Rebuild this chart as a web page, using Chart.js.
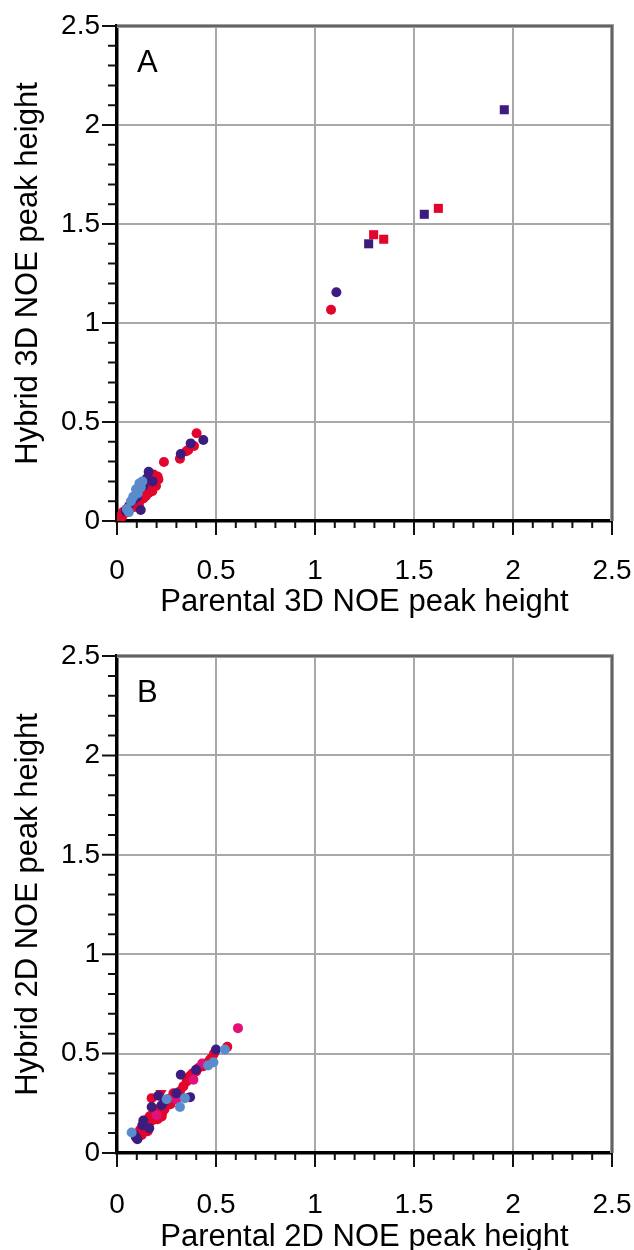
<!DOCTYPE html>
<html>
<head>
<meta charset="utf-8">
<script src="https://cdn.jsdelivr.net/npm/chart.js@4.4.0/dist/chart.umd.min.js"></script>
<style>
  html, body { margin: 0; padding: 0; background: #fff; }
  canvas { display: block; }
</style>
</head>
<body>
<canvas id="chartA" width="634" height="625"></canvas>
<canvas id="chartB" width="634" height="625"></canvas>
<script>
/* ── Data: panel A (3D NOE) ───────────────────────────────────────── */
const axisTicks = [0, 0.5, 1, 1.5, 2, 2.5];

const aBlueX   = [0.113, 0.096, 0.082, 0.070, 0.120, 0.050, 0.105, 0.128, 0.060];
const aBlueY   = [0.190, 0.160, 0.123, 0.100, 0.170, 0.060, 0.140, 0.200, 0.045];
const aPurpleX = [0.436, 0.372, 0.322, 0.160, 0.133, 0.120, 0.082, 0.045, 0.100, 0.180, 0.150, 1.108];
const aPurpleY = [0.409, 0.392, 0.338, 0.249, 0.177, 0.056, 0.106, 0.050, 0.120, 0.200, 0.215, 1.155];
const aPurpleTriX = [0.066];
const aPurpleTriY = [0.076];
const aRedX = [0.402, 0.389, 0.360, 0.350, 0.318, 0.237, 0.175, 0.209, 0.197, 0.167, 0.158,
               0.133, 0.113, 0.091, 0.066, 0.040, 0.015, 0.007, 0.190, 0.150, 0.100, 0.055,
               0.025, 0.080, 0.125, 0.170, 0.185, 0.160, 0.140, 0.118, 0.095, 0.072, 0.048,
               0.030, 0.205, 0.178, 0.145, 0.110, 0.085, 0.105, 0.075, 0.130, 0.175, 0.062,
               1.081];
const aRedY = [0.443, 0.379, 0.359, 0.352, 0.315, 0.298, 0.221, 0.210, 0.177, 0.165, 0.140,
               0.114, 0.098, 0.072, 0.064, 0.039, 0.022, 0.013, 0.205, 0.150, 0.100, 0.050,
               0.020, 0.070, 0.118, 0.195, 0.235, 0.225, 0.180, 0.130, 0.115, 0.085, 0.060,
               0.045, 0.225, 0.150, 0.125, 0.080, 0.110, 0.135, 0.090, 0.160, 0.215, 0.075,
               1.067];
const aPurpleSqX = [1.271, 1.552, 1.956];
const aPurpleSqY = [1.400, 1.549, 2.077];
const aRedSqX    = [1.296, 1.347, 1.623];
const aRedSqY    = [1.446, 1.423, 1.579];

/* ── Data: panel B (2D NOE) ───────────────────────────────────────── */
const bBlueX = [0.545, 0.487, 0.343, 0.318, 0.251, 0.074, 0.460];
const bBlueY = [0.520, 0.456, 0.276, 0.231, 0.271, 0.103, 0.440];
const bPurpleX = [0.500, 0.399, 0.322, 0.369, 0.209, 0.175, 0.133, 0.163, 0.103, 0.095, 0.240,
                  0.300, 0.128, 0.225];
const bPurpleY = [0.520, 0.419, 0.394, 0.281, 0.288, 0.231, 0.163, 0.125, 0.069, 0.080, 0.260,
                  0.300, 0.140, 0.240];
const bPurpleTriX = [0.082];
const bPurpleTriY = [0.095];
const bMagentaX = [0.611, 0.386, 0.300, 0.200, 0.430];
const bMagentaY = [0.628, 0.369, 0.270, 0.190, 0.450];
const bRedX = [0.557, 0.478, 0.461, 0.436, 0.411, 0.352, 0.335, 0.318, 0.293, 0.276, 0.251,
               0.175, 0.217, 0.226, 0.200, 0.184, 0.158, 0.133, 0.116, 0.108, 0.125, 0.240,
               0.210, 0.190, 0.150, 0.140, 0.170, 0.260, 0.300, 0.380, 0.450, 0.490, 0.120,
               0.165, 0.145, 0.195, 0.230, 0.270, 0.285, 0.365, 0.400, 0.470, 0.130, 0.155,
               0.205, 0.180];
const bRedY = [0.534, 0.478, 0.456, 0.436, 0.428, 0.360, 0.335, 0.310, 0.293, 0.276, 0.251,
               0.276, 0.226, 0.184, 0.200, 0.167, 0.150, 0.133, 0.116, 0.082, 0.091, 0.220,
               0.190, 0.180, 0.120, 0.140, 0.160, 0.270, 0.280, 0.400, 0.450, 0.500, 0.100,
               0.185, 0.165, 0.215, 0.205, 0.245, 0.300, 0.385, 0.410, 0.470, 0.115, 0.110,
               0.170, 0.195];
const bRedTriX = [0.222];
const bRedTriY = [0.301];

/* ── Colours ──────────────────────────────────────────────────────── */
const cPurple  = '#3d1c80';
const cRed     = '#e2062c';
const cBlue    = '#5a8bcb';
const cMagenta = '#e0127a';

function pts(xs, ys) {
  return xs.map(function(x, i) { return { x: x, y: ys[i] }; });
}

function ds(xs, ys, color, style, r, rot) {
  return {
    data: pts(xs, ys),
    backgroundColor: color,
    borderColor: color,
    borderWidth: 0,
    pointStyle: style,
    pointRadius: r,
    pointRotation: rot || 0
  };
}

// ── Frame + minor ticks + panel letter ──────────────────────────────
const framePlugin = {
  id: 'frame',
  afterDraw: function(chart) {
    const ctx = chart.ctx, a = chart.chartArea;
    const xs = chart.scales.x, ys = chart.scales.y;
    ctx.save();
    // top + right grey double border
    ctx.lineCap = 'butt';
    ctx.strokeStyle = '#a0a0a0';
    ctx.lineWidth = 4;
    ctx.beginPath();
    ctx.moveTo(a.left, a.top); ctx.lineTo(a.right, a.top); ctx.lineTo(a.right, a.bottom);
    ctx.stroke();
    ctx.strokeStyle = '#505050';
    ctx.lineWidth = 1.5;
    ctx.stroke();

    // tick marks
    ctx.strokeStyle = '#111';
    ctx.lineWidth = 2;
    for (let i = 0; i <= 25; i++) {
      const v = i / 10;
      const major = i % 5 === 0;
      const px = xs.getPixelForValue(v);
      const py = ys.getPixelForValue(v);
      ctx.beginPath();
      ctx.moveTo(px, a.bottom);
      ctx.lineTo(px, a.bottom + (major ? 14 : 7));
      ctx.moveTo(a.left, py);
      ctx.lineTo(a.left - (major ? 15 : 9), py);
      ctx.stroke();
    }

    // panel letter
    ctx.fillStyle = '#000';
    ctx.font = '31px "Liberation Sans", Arial, sans-serif';
    ctx.textBaseline = 'middle';
    ctx.textAlign = 'left';
    ctx.fillText(chart.options.plugins.frame.letter, a.left + 20, a.top + 37);
    ctx.restore();
  }
};

function makeChart(id, datasets, opt) {
  const font = '"Liberation Sans", Arial, sans-serif';
  return new Chart(document.getElementById(id), {
    type: 'scatter',
    data: { datasets: datasets },
    plugins: [framePlugin],
    options: {
      responsive: false,
      animation: false,
      devicePixelRatio: 1,
      layout: { padding: { top: opt.padTop, right: 22, bottom: 0, left: 0 } },
      plugins: {
        legend: { display: false },
        tooltip: { enabled: false },
        frame: { letter: opt.letter }
      },
      scales: {
        x: {
          type: 'linear', min: 0, max: 2.5,
          afterBuildTicks: function(s) { s.ticks = axisTicks.map(function(v) { return { value: v }; }); },
          afterFit: function(s) {
            s.height = 625 - opt.plotBottom;
            s.paddingLeft = 0; s.paddingRight = 0;
          },
          ticks: {
            color: '#000', padding: opt.xTickPad, maxRotation: 0,
            font: { family: font, size: 28 },
            callback: function(v) { return String(v); }
          },
          grid: { color: '#a8a8a8', lineWidth: 2, drawTicks: false },
          border: { color: '#000', width: 3.5 },
          title: {
            display: true, text: opt.xTitle, color: '#000',
            font: { family: font, size: 31, lineHeight: 1 },
            padding: { top: 0, bottom: opt.xTitlePad }
          }
        },
        y: {
          type: 'linear', min: 0, max: 2.5,
          afterBuildTicks: function(s) { s.ticks = axisTicks.map(function(v) { return { value: v }; }); },
          afterFit: function(s) {
            s.width = 117;
            s.paddingTop = 0; s.paddingBottom = 0;
          },
          ticks: {
            color: '#000', padding: 17,
            font: { family: font, size: 28 },
            callback: function(v) { return String(v); }
          },
          grid: { color: '#a8a8a8', lineWidth: 2, drawTicks: false },
          border: { color: '#000', width: 3.5 },
          title: {
            display: true, text: opt.yTitle, color: '#000',
            font: { family: font, size: 31, lineHeight: 1 },
            padding: { top: 12.5, bottom: 0 }
          }
        }
      }
    }
  });
}

makeChart('chartA', [
  ds(aBlueX, aBlueY, cBlue, 'circle', 5),
  ds(aPurpleX, aPurpleY, cPurple, 'circle', 5),
  ds(aPurpleTriX, aPurpleTriY, cPurple, 'triangle', 6.5, 180),
  ds(aRedX, aRedY, cRed, 'circle', 5),
  ds(aPurpleSqX, aPurpleSqY, cPurple, 'rect', 6.4),
  ds(aRedSqX, aRedSqY, cRed, 'rect', 6.4)
], {
  letter: 'A', padTop: 26, plotBottom: 521, xTitlePad: 7.5, xTickPad: 33,
  xTitle: 'Parental 3D NOE peak height', yTitle: 'Hybrid 3D NOE peak height'
});

makeChart('chartB', [
  ds(bBlueX, bBlueY, cBlue, 'circle', 5),
  ds(bPurpleX, bPurpleY, cPurple, 'circle', 5),
  ds(bPurpleTriX, bPurpleTriY, cPurple, 'triangle', 6.5, 180),
  ds(bMagentaX, bMagentaY, cMagenta, 'circle', 5),
  ds(bRedX, bRedY, cRed, 'circle', 5),
  ds(bRedTriX, bRedTriY, cRed, 'triangle', 6.5, 180)
], {
  letter: 'B', padTop: 31, plotBottom: 528, xTitlePad: -3, xTickPad: 35,
  xTitle: 'Parental 2D NOE peak height', yTitle: 'Hybrid 2D NOE peak height'
});
</script>
</body>
</html>
